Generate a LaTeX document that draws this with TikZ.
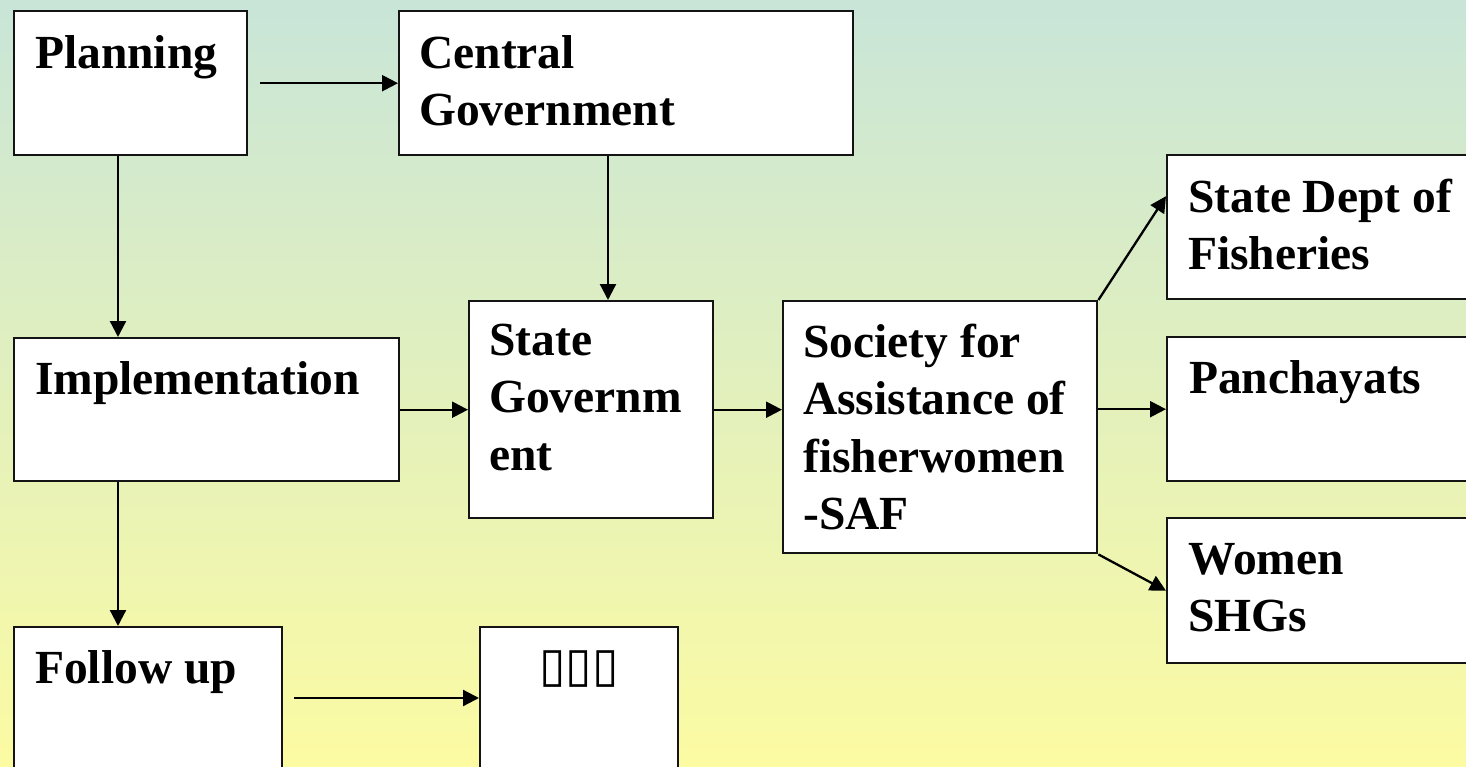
\documentclass[tikz,border=0pt]{standalone}
\usepackage{fontspec}
\setmainfont{Liberation Serif}
\newfontfamily\symfont{DejaVu Sans}
\usetikzlibrary{arrows.meta,calc}
\definecolor{bgtop}{RGB}{200,229,216}
\definecolor{bgbot}{RGB}{252,251,162}
\definecolor{edge}{RGB}{20,20,20}
\tikzset{
  box/.style={draw=edge, line width=2.4pt, fill=white, rectangle, anchor=north west, inner sep=0pt},
  lbl/.style={anchor=north west, inner sep=0pt, align=left, font=\bfseries\fontsize{47.5}{57.5}\selectfont},
  arr/.style={line width=2.3pt, draw=black, -{Triangle[length=16pt,width=16pt]}},
}
\begin{document}
\begin{tikzpicture}[x=1pt,y=-1pt]
\useasboundingbox (0,0) rectangle (1466,767);
\clip (0,0) rectangle (1466,767);
\shade[top color=bgtop, bottom color=bgbot] (0,0) rectangle (1466,767);

% boxes
\node[box, minimum width=233pt, minimum height=144pt] (plan) at (13,10) {};
\node[box, minimum width=454pt, minimum height=144pt] (cent) at (398,10) {};
\node[box, minimum width=385pt, minimum height=143pt] (impl) at (13,337) {};
\node[box, minimum width=244pt, minimum height=217pt] (stat) at (468,300) {};
\node[box, minimum width=314pt, minimum height=252pt] (soc) at (782,300) {};
\node[box, minimum width=324pt, minimum height=144pt] (dept) at (1166,154) {};
\node[box, minimum width=324pt, minimum height=144pt] (panc) at (1166,336) {};
\node[box, minimum width=324pt, minimum height=145pt] (wom) at (1166,517) {};
\node[box, minimum width=268pt, minimum height=180pt] (foll) at (13,626) {};
\node[box, minimum width=198pt, minimum height=180pt] (unk) at (479,626) {};

% texts
\node[lbl] (planT) at ([shift={(22pt,-18pt)}]plan.north west) {\strut Planning};
\node[lbl] (centT) at ([shift={(21pt,-18pt)}]cent.north west) {\strut Central\\\strut Government};
\node[lbl] (implT) at ([shift={(22pt,-17pt)}]impl.north west) {\strut Implementation};
\node[lbl] (statT) at ([shift={(21pt,-15pt)}]stat.north west) {\strut State\\\strut Governm\\\strut ent};
\node[lbl] (socT) at ([shift={(21pt,-17pt)}]soc.north west) {\strut Society for\\\strut Assistance of\\\strut fisherwomen\\\strut -SAF};
\node[lbl] (deptT) at ([shift={(22pt,-18pt)}]dept.north west) {\strut State Dept of\\\strut Fisheries};
\node[lbl] (pancT) at ([shift={(23pt,-17pt)}]panc.north west) {\strut Panchayats};
\node[lbl] (womT) at ([shift={(22pt,-17pt)}]wom.north west) {\strut Women\\\strut SHGs};
\node[lbl] (follT) at ([shift={(22pt,-17pt)}]foll.north west) {\strut Follow up};
\node[anchor=base, inner sep=0pt, font=\symfont\bfseries\fontsize{48}{56}\selectfont] (unkT) at ([yshift=-55pt]unk.north) {▯▯▯};

% connectors
\draw[arr] ([xshift=12pt]plan.east) -- (plan.east -| cent.west);
\draw[arr] ([xshift=105pt]plan.south west) -- ([xshift=105pt]impl.north west);
\draw[arr] ([xshift=210pt]cent.south west) -- ([xshift=210pt]cent.south west |- stat.north);
\draw[arr] (impl.east) -- (impl.east -| stat.west);
\draw[arr] (stat.east) -- (stat.east -| soc.west);
\draw[arr] (panc.west -| soc.east) -- (panc.west);
\draw[arr] (soc.north east) -- ([yshift=31pt]dept.west);
\draw[arr] (soc.south east) -- (wom.west);
\draw[arr] ([xshift=105pt]impl.south west) -- ([xshift=105pt]foll.north west);
\draw[arr] ([shift={(11pt,-72pt)}]foll.north east) -- ([yshift=-72pt]unk.north west);
\end{tikzpicture}
\end{document}
